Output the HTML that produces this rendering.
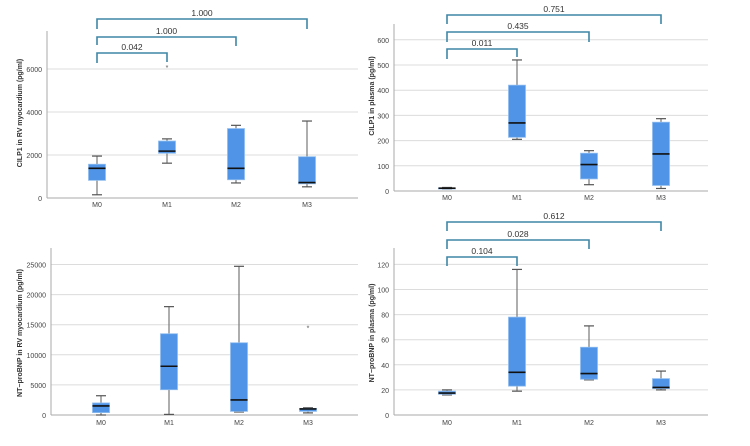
<!DOCTYPE html>
<html><head><meta charset="utf-8"><style>
body{margin:0;background:#fff;}
svg{display:block;font-family:"Liberation Sans",sans-serif;}
</style></head><body>
<svg id="c" width="750" height="446" viewBox="0 0 750 446"></svg>
<script>
const categories=["M0","M1","M2","M3"];
// [low whisker, q1, median, q3, high whisker]
const p1Stats=[[150,820,1380,1570,1950],[1620,2080,2180,2650,2750],[700,850,1380,3230,3380],[520,660,720,1920,3580]];
const p1Outliers=[[],[6100],[],[]];
const p1Ticks=[0,2000,4000,6000];
const p1Pvals=["0.042","1.000","1.000"];
const p2Stats=[[8,10,11,12,14],[205,213,270,420,520],[25,48,105,150,160],[10,22,147,273,287]];
const p2Outliers=[[],[],[],[]];
const p2Ticks=[0,100,200,300,400,500,600];
const p2Pvals=["0.011","0.435","0.751"];
const p3Stats=[[0,400,1500,2000,3200],[100,4200,8100,13500,18000],[500,600,2500,12000,24700],[350,600,1000,1100,1200]];
const p3Outliers=[[],[],[],[14500]];
const p3Ticks=[0,5000,10000,15000,20000,25000];
const p4Stats=[[16,16.5,17.5,19,20],[19,23,34,78,116],[28,28.5,33,54,71],[20,21,22,29,35]];
const p4Outliers=[[],[],[],[]];
const p4Ticks=[0,20,40,60,80,100,120];
const p4Pvals=["0.104","0.028","0.612"];

const svg=document.getElementById('c');
const NS="http://www.w3.org/2000/svg";
function mk(tag,attrs,parent){const e=document.createElementNS(NS,tag);for(const k in attrs)e.setAttribute(k,attrs[k]);(parent||svg).appendChild(e);return e;}

function panel(cfg){
  const g=mk('g',{});
  
  
  const y=v=>cfg.y0-(v-0)*cfg.pxPer;
  cfg.ticks.forEach(t=>{
    if(t>0){const l=mk('line',{x1:cfg.ax,x2:cfg.right,y1:y(t),y2:y(t),stroke:'#dcdcdc','stroke-width':1},g);
      }
    const tx=mk('text',{x:cfg.ax-5,y:y(t)+3,'text-anchor':'end','font-size':7,fill:'#444'},g);
    tx.textContent=t;
    
  });
  const ya=mk('line',{x1:cfg.ax,x2:cfg.ax,y1:cfg.top,y2:cfg.y0,stroke:'#aaa'},g);
  
  const xa=mk('line',{x1:cfg.ax,x2:cfg.right,y1:cfg.y0,y2:cfg.y0,stroke:'#aaa'},g);
  
  const yt=mk('text',{transform:`translate(${cfg.titleX},${cfg.titleY}) rotate(-90)`,'text-anchor':'middle','font-size':7,'font-weight':'bold',fill:'#333'},g);
  yt.textContent=cfg.title;
  
  const xs=cfg.xs;
  categories.forEach((c,i)=>{
    const x=xs[i];const s=cfg.stats[i];
    const lab=mk('text',{x:x,y:cfg.labelY,'text-anchor':'middle','font-size':7,fill:'#444'},g);
    lab.textContent=c;
    const w=mk('line',{x1:x,x2:x,y1:y(s[0]),y2:y(s[4]),stroke:'#777','stroke-width':1.2},g);
    
    [s[0],s[4]].forEach(v=>{const cp=mk('line',{x1:x-5,x2:x+5,y1:y(v),y2:y(v),stroke:'#555','stroke-width':1.2},g);
      });
    const b=mk('rect',{x:x-8.5,y:y(s[3]),width:17,height:Math.max(1,y(s[1])-y(s[3])),fill:'#4f94e6',stroke:'#8fbcef','stroke-width':0.8},g);
    
    const m=mk('line',{x1:x-8.5,x2:x+8.5,y1:y(s[2]),y2:y(s[2]),stroke:'#111','stroke-width':1.6},g);
    
    cfg.outliers[i].forEach(v=>{const o=mk('text',{x:x,y:y(v)+3,'text-anchor':'middle','font-size':7,fill:'#555'},g);
      o.textContent='*';});
  });
  (cfg.brackets||[]).forEach((br,k)=>{
    const x1=xs[0],x2=xs[k+1];
    const p=mk('path',{d:`M${x1},${br[1]}V${br[0]}H${x2}V${br[2]}`,fill:'none',stroke:'#3f86a6','stroke-width':1.6},g);
    
    const t=mk('text',{x:(x1+x2)/2,y:br[0]-3,'text-anchor':'middle','font-size':8.5,fill:'#333'},g);
    t.textContent=cfg.pvals[k];
  });
}
panel({name:'cilp1-myocardium-panel',ax:47,right:358,top:31,y0:198,pxPer:43/2000,ticks:p1Ticks,stats:p1Stats,outliers:p1Outliers,
  xs:[97,167,236,307],labelY:207,title:'CILP1 in RV myocardium (pg/ml)',titleX:22,titleY:113,
  brackets:[[53,63,62],[37,45,46],[19,29,29]],pvals:p1Pvals});
panel({name:'cilp1-plasma-panel',ax:394,right:708,top:24,y0:191,pxPer:25.2/100,ticks:p2Ticks,stats:p2Stats,outliers:p2Outliers,
  xs:[447,517,589,661],labelY:200,title:'CILP1 in plasma (pg/ml)',titleX:374,titleY:96,
  brackets:[[49,59,57],[32,42,42],[15,24,24]],pvals:p2Pvals});
panel({name:'ntprobnp-myocardium-panel',ax:51,right:358,top:248,y0:415,pxPer:30.1/5000,ticks:p3Ticks,stats:p3Stats,outliers:p3Outliers,
  xs:[101,169,239,308],labelY:425,title:'NT−proBNP in RV myocardium (pg/ml)',titleX:22,titleY:333});
panel({name:'ntprobnp-plasma-panel',ax:394,right:708,top:248,y0:415,pxPer:25.1/20,ticks:p4Ticks,stats:p4Stats,outliers:p4Outliers,
  xs:[447,517,589,661],labelY:425,title:'NT−proBNP in plasma (pg/ml)',titleX:374,titleY:333,
  brackets:[[257,266,266],[240,249,249],[222,231,231]],pvals:p4Pvals});
</script>
</body></html>
